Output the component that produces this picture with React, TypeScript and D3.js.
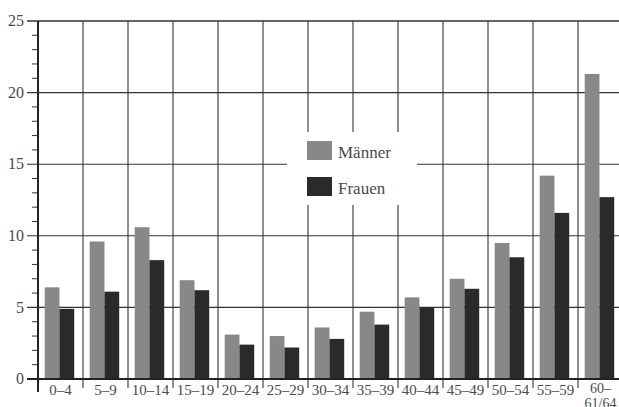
import { useMemo } from "react";
import * as d3 from "d3";

const WIDTH = 619;
const HEIGHT = 407;
const FONT = "'Liberation Serif', 'DejaVu Serif', serif";
const MARGIN = { top: 21, right: -4, bottom: 28, left: 38 };

const CATEGORIES = [
  "0–4", "5–9", "10–14", "15–19", "20–24", "25–29", "30–34",
  "35–39", "40–44", "45–49", "50–54", "55–59", "60–\n61/64",
];
const SERIES = ["Männer", "Frauen"];
const MAENNER = [6.4, 9.6, 10.6, 6.9, 3.1, 3.0, 3.6, 4.7, 5.7, 7.0, 9.5, 14.2, 21.3];
const FRAUEN = [4.9, 6.1, 8.3, 6.2, 2.4, 2.2, 2.8, 3.8, 5.0, 6.3, 8.5, 11.6, 12.7];
const Y_TICKS = [0, 5, 10, 15, 20, 25];
const COLORS = ["#888888", "#2a2a2a"];
const GRID = "#333";
const TEXT = "#4a4a4a";

export default function App() {
  const w = WIDTH - MARGIN.left - MARGIN.right;
  const h = HEIGHT - MARGIN.top - MARGIN.bottom;

  const x = useMemo(
    () => d3.scaleBand<string>().domain(CATEGORIES).range([0, w]).padding(0),
    [w]
  );
  const x1 = useMemo(
    () => d3.scaleBand<string>().domain(SERIES).range([6.7, 36.2]).padding(0),
    []
  );
  const y = useMemo(() => d3.scaleLinear().domain([0, 25]).range([h, 0]), [h]);
  const minor = d3.range(0, 26, 1).filter((v) => v % 5 !== 0);
  const values = [MAENNER, FRAUEN];

  // legend box (covers grid lines)
  const lg = { x: 287 - MARGIN.left, y: 132 - MARGIN.top, w: 130, h: 73 };

  return (
    <svg
      width={WIDTH}
      height={HEIGHT}
      style={{ position: "absolute", left: 0, top: 0, background: "#fff" }}
    >
      <g transform={`translate(${MARGIN.left},${MARGIN.top})`}>
        {/* horizontal grid */}
        {Y_TICKS.map((t) => (
          <line
            key={`h${t}`}
            x1={-11}
            x2={WIDTH}
            y1={y(t)}
            y2={y(t)}
            stroke={GRID}
            strokeWidth={t === 25 ? 1.6 : 1.1}
          />
        ))}
        {minor.map((t) => (
          <line key={`m${t}`} x1={-6} x2={0} y1={y(t)} y2={y(t)} stroke={GRID} strokeWidth={1} />
        ))}
        {/* vertical grid */}
        {CATEGORIES.slice(1).map((c) => (
          <line
            key={`v${c}`}
            x1={x(c)!}
            x2={x(c)!}
            y1={0}
            y2={h + 9}
            stroke={GRID}
            strokeWidth={1.1}
          />
        ))}
        {/* legend background */}
        <rect x={lg.x} y={lg.y} width={lg.w} height={lg.h} fill="#fff" />

        {/* bars */}
        {SERIES.map((s, si) =>
          CATEGORIES.map((c, i) => (
            <rect
              key={`${s}${c}`}
              x={x(c)! + x1(s)!}
              y={y(values[si][i])}
              width={x1.bandwidth()}
              height={h - y(values[si][i])}
              fill={COLORS[si]}
            />
          ))
        )}

        {/* axes */}
        <line x1={0} x2={0} y1={0} y2={h + 13} stroke="#222" strokeWidth={2} />
        <line x1={-11} x2={WIDTH} y1={h} y2={h} stroke="#222" strokeWidth={1.8} />

        {Y_TICKS.map((t) => (
          <text
            key={`yl${t}`}
            x={-14}
            y={y(t)}
            dy="0.33em"
            textAnchor="end"
            fill={TEXT}
            fontFamily={FONT}
            fontSize={16}
          >
            {t}
          </text>
        ))}

        {CATEGORIES.map((c) => {
          const lines = c.split("\n");
          const cx = x(c)! + x.bandwidth() / 2;
          return (
            <text
              key={`xl${c}`}
              x={cx}
              y={lines.length > 1 ? h + 14 : h + 16}
              textAnchor="middle"
              fill={TEXT}
              fontFamily={FONT}
              fontSize={lines.length > 1 ? 14 : 15}
            >
              {lines.map((line, li) => (
                <tspan key={li} x={cx} dy={li === 0 ? 0 : 15}>
                  {line}
                </tspan>
              ))}
            </text>
          );
        })}

        {/* legend */}
        {SERIES.map((s, si) => (
          <g key={`lg${s}`} transform={`translate(${307 - MARGIN.left},${141 - MARGIN.top + si * 36})`}>
            <rect width={25} height={19} fill={COLORS[si]} />
            <text x={31} y={17} fill={TEXT} fontFamily={FONT} fontSize={17}>
              {s}
            </text>
          </g>
        ))}
      </g>
    </svg>
  );
}
